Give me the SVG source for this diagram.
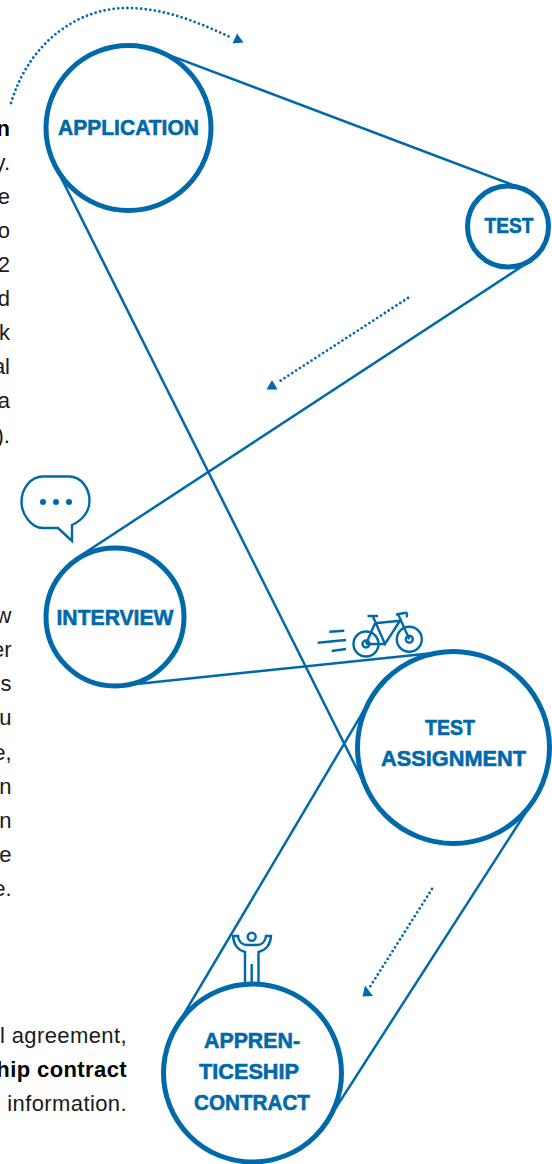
<svg xmlns="http://www.w3.org/2000/svg" width="552" height="1164" viewBox="0 0 552 1164">
<style>
.node{fill:#fff;stroke:#0069aa;stroke-width:5}
.lbl{font-family:"Liberation Sans",Arial,sans-serif;font-weight:700;font-size:22px;fill:#0069aa;stroke:#0069aa;stroke-width:.6;text-anchor:middle}
.body{font-family:"Liberation Sans",Arial,sans-serif;font-size:22px;fill:#1a1a1a;text-anchor:end}
.b{font-weight:700;fill:#000}
.con{fill:none;stroke:#0069aa;stroke-width:2.5}
.dot{fill:none;stroke:#0069aa;stroke-width:2.8;stroke-linecap:round;stroke-dasharray:0 4.6}
.ico{fill:none;stroke:#0069aa;stroke-width:2.4}
.tri{fill:#0069aa}
</style>
<g id="connectors">
<path class="con" d="M157.700 50.800L522.300 188.600"/>
<path class="con" d="M530.300 261L80 556"/>
<path class="con" d="M122.200 685.600L443.500 652"/>
<path class="con" d="M54.700 164.900L367.700 790.500"/>
<path class="con" d="M370.900 698.600L175.900 1027.600"/>
<path class="con" d="M534.200 799.400L327.300 1121.100"/>
<path class="dot" d="M11 103C30 40 80 8 127 8C165 8 200 23 232 38"/>
<path class="dot" d="M408 298L277 383"/>
<path class="dot" d="M432 889L368 990"/>
<path class="tri" d="M237 33.500L243.500 42.500L232.500 43.500Z"/>
<path class="tri" d="M272 380L277.500 389.500L266.500 389.500Z"/>
<path class="tri" d="M373 996L362.500 996.500L365 985.500Z"/>
</g>
<g id="node-application"><circle class="node" cx="128.500" cy="128" r="82.500"/><text class="lbl" x="128.500" y="135" textLength="141" lengthAdjust="spacingAndGlyphs">APPLICATION</text></g>
<g id="node-test"><circle class="node" cx="508" cy="226.500" r="40.500"/><text class="lbl" x="509" y="233" textLength="49" lengthAdjust="spacingAndGlyphs">TEST</text></g>
<g id="node-interview"><circle class="node" cx="115" cy="617" r="69"/><text class="lbl" x="115" y="625" textLength="117" lengthAdjust="spacingAndGlyphs">INTERVIEW</text></g>
<g id="node-test-assignment"><circle class="node" cx="453.500" cy="747.500" r="96"/><text class="lbl" x="450" y="735" textLength="50" lengthAdjust="spacingAndGlyphs">TEST</text><text class="lbl" x="453.500" y="766" textLength="145" lengthAdjust="spacingAndGlyphs">ASSIGNMENT</text></g>
<g id="node-contract"><circle class="node" cx="252.500" cy="1073" r="89"/><text class="lbl" x="252" y="1048" textLength="96" lengthAdjust="spacingAndGlyphs">APPREN-</text><text class="lbl" x="249" y="1079" textLength="100" lengthAdjust="spacingAndGlyphs">TICESHIP</text><text class="lbl" x="252" y="1110" textLength="116" lengthAdjust="spacingAndGlyphs">CONTRACT</text></g>
<g id="text-left">
<text class="body b" x="10" y="136">n</text>
<text class="body" x="10" y="170">y.</text>
<text class="body" x="10" y="204">e</text>
<text class="body" x="10" y="238">o</text>
<text class="body" x="10" y="272">2</text>
<text class="body" x="10" y="306">d</text>
<text class="body" x="10" y="340">k</text>
<text class="body" x="10" y="374">al</text>
<text class="body" x="10" y="408">a</text>
<text class="body" x="10" y="443">).</text>
<text class="body" x="11.500" y="623">w</text>
<text class="body" x="11.500" y="657">er</text>
<text class="body" x="11.500" y="691">s</text>
<text class="body" x="11.500" y="725">u</text>
<text class="body" x="11.500" y="760">e,</text>
<text class="body" x="11.500" y="794">n</text>
<text class="body" x="11.500" y="828">n</text>
<text class="body" x="11.500" y="862">e</text>
<text class="body" x="11.500" y="896">e.</text>
<text class="body" x="127" y="1043" letter-spacing="0.4">l agreement,</text>
<text class="body b" x="127" y="1077" letter-spacing="0.4">hip contract</text>
<text class="body" x="127" y="1111" letter-spacing="0.4">information.</text>
</g>
<g id="icon-speech">
<path class="ico" d="M43 476.500H69C81 476.500 89.500 488 89.500 501C89.500 511 83 520 72 525V541L58 528H43C31 528 21.500 514 21.500 502C21.500 488 31 476.500 43 476.500Z"/>
<circle class="tri" cx="43" cy="502" r="3"/><circle class="tri" cx="56" cy="502" r="3"/><circle class="tri" cx="69" cy="502" r="3"/>
</g>
<g id="icon-bike">
<circle class="ico" cx="366" cy="644" r="12.500"/><circle class="ico" cx="366" cy="644" r="3.500"/>
<circle class="ico" cx="409.300" cy="639.300" r="12.500"/><circle class="ico" cx="409.300" cy="639.300" r="3.500"/>
<path class="ico" d="M367.500 616H378M372.700 616L385 644L400 620.700L375 623.300M366 644H385M366 644L375 623.300M398 614L409.300 639.300M396 614.500L406 612.700C407.500 613 407.500 616 406 617"/>
<path class="ico" d="M329.300 631.700L344.300 630.700M317.700 642.700L346 640M331.700 651L346 649"/>
</g>
<g id="icon-person">
<circle class="ico" cx="251.700" cy="936.700" r="4"/>
<path class="ico" d="M245 982V952C238 950 233.500 945 233 936H238C238.500 942 243 945 248 945H256C261 945 265.500 942 266 936H271C270.500 945 266 950 258.500 952V982M251.700 964V982"/>
</g>
</svg>
